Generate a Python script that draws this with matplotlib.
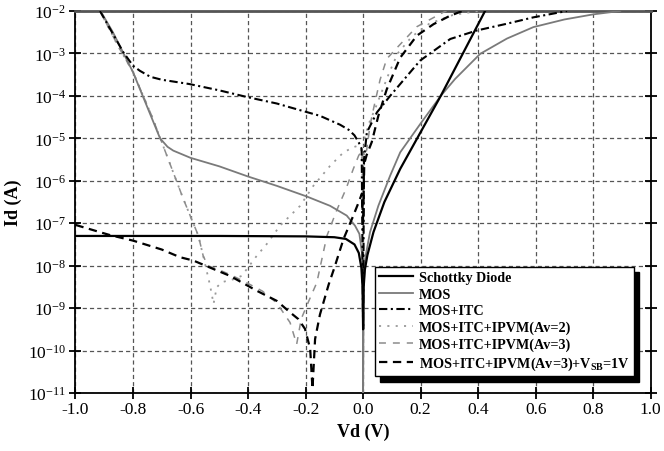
import numpy as np
import matplotlib
matplotlib.use("Agg")
import matplotlib.pyplot as plt
from matplotlib.ticker import LogLocator, NullLocator, MultipleLocator

plt.rcParams["font.family"] = "serif"
plt.rcParams["font.serif"] = ["Liberation Serif", "DejaVu Serif"]
plt.rcParams["mathtext.fontset"] = "custom"
plt.rcParams["mathtext.rm"] = "Liberation Serif"
plt.rcParams["mathtext.bf"] = "Liberation Serif:bold"
plt.rcParams["mathtext.it"] = "Liberation Serif:italic"
plt.rcParams["lines.scale_dashes"] = False

# values: Vd (V) and log10(Id / A)
vd_schottky = [-1.0, -0.5, -0.2, -0.1, -0.06, -0.03, -0.015, -0.006, -0.002, 0.0,
               0.002, 0.006, 0.015, 0.036, 0.074, 0.129, 0.27, 0.424]
lg_schottky = [-7.30, -7.30, -7.31, -7.33, -7.37, -7.50, -7.70, -8.05, -8.5, -9.5,
               -8.5, -8.1, -7.75, -7.21, -6.5, -5.72, -4.0, -2.0]

vd_mos = [-0.913, -0.87, -0.80, -0.776, -0.706, -0.68, -0.66, -0.60, -0.50, -0.40,
          -0.30, -0.196, -0.115, -0.057, -0.028, -0.013, -0.004, -0.001, 0.0,
          0.002, 0.007, 0.024, 0.053, 0.094, 0.129, 0.20, 0.27, 0.32, 0.407,
          0.50, 0.592, 0.70, 0.80, 0.894]
lg_mos = [-2.0, -2.5, -3.44, -3.84, -5.0, -5.2, -5.29, -5.46, -5.66, -5.90,
          -6.12, -6.37, -6.59, -6.82, -7.06, -7.25, -7.7, -8.5, -11.0,
          -8.5, -7.84, -7.21, -6.59, -5.88, -5.33, -4.65, -4.0, -3.6, -3.01,
          -2.65, -2.38, -2.2, -2.08, -2.0]

vd_itc = [-0.915, -0.834, -0.80, -0.776, -0.74, -0.70, -0.605, -0.50, -0.402, -0.30,
          -0.254, -0.15, -0.08, -0.05, -0.03, -0.015, -0.005, 0.0, 0.003, 0.013,
          0.048, 0.094, 0.198, 0.303, 0.395, 0.50, 0.592, 0.709]
lg_itc = [-2.0, -2.97, -3.29, -3.41, -3.55, -3.62, -3.72, -3.87, -4.03, -4.18,
          -4.27, -4.47, -4.68, -4.80, -4.93, -5.10, -5.25, -9.5, -5.5, -4.86,
          -4.39, -4.0, -3.17, -2.66, -2.46, -2.3, -2.15, -2.0]

vd_av2 = [-0.915, -0.85, -0.80, -0.735, -0.625, -0.573, -0.556, -0.532, -0.52, -0.509,
          -0.492, -0.45, -0.422, -0.37, -0.335, -0.289, -0.219, -0.173, -0.115, -0.068,
          -0.034, -0.016, -0.005, 0.0, 0.005, 0.02, 0.042, 0.065, 0.088, 0.12,
          0.17, 0.23, 0.31, 0.40]
lg_av2 = [-2.0, -2.85, -3.44, -4.47, -6.43, -7.29, -7.77, -8.47, -8.9, -8.51,
          -8.39, -8.32, -8.24, -7.77, -7.49, -7.06, -6.59, -6.12, -5.65, -5.33,
          -5.21, -5.17, -5.3, -6.5, -5.0, -4.65, -4.3, -3.9, -3.5, -3.0,
          -2.6, -2.3, -2.1, -2.0]

vd_av3 = [-0.915, -0.85, -0.80, -0.735, -0.625, -0.573, -0.556, -0.54, -0.50, -0.45,
          -0.40, -0.35, -0.30, -0.254, -0.231, -0.215, -0.19, -0.161, -0.126, -0.092,
          -0.06, -0.034, -0.015, -0.004, 0.0, 0.005, 0.013, 0.024, 0.036, 0.059,
          0.082, 0.12, 0.187, 0.279, 0.29]
lg_av3 = [-2.0, -2.85, -3.44, -4.47, -6.43, -7.29, -7.77, -8.0, -8.1, -8.25,
          -8.42, -8.6, -8.88, -9.34, -9.85, -9.25, -8.85, -8.4, -7.3, -6.7,
          -6.2, -5.72, -5.4, -5.3, -6.0, -5.5, -5.25, -4.7, -4.31, -3.62,
          -3.13, -2.85, -2.37, -2.03, -2.0]

vd_vsb = [-1.0, -0.88, -0.80, -0.70, -0.637, -0.59, -0.52, -0.463, -0.37, -0.30,
          -0.254, -0.225, -0.202, -0.184, -0.176, -0.167, -0.15, -0.12, -0.10, -0.068,
          -0.034, -0.015, -0.004, 0.0, 0.004, 0.012, 0.030, 0.053, 0.082, 0.129,
          0.187, 0.245, 0.30, 0.345]
lg_vsb = [-7.04, -7.28, -7.41, -7.62, -7.80, -7.88, -8.08, -8.24, -8.59, -8.83,
          -9.10, -9.26, -9.49, -9.96, -10.9, -9.73, -9.15, -8.45, -8.05, -7.37,
          -6.82, -6.5, -6.3, -7.0, -5.6, -5.4, -5.09, -4.47, -3.85, -3.1,
          -2.58, -2.31, -2.12, -2.0]

labels = ["Schottky Diode", "MOS", "MOS+ITC", "MOS+ITC+IPVM(Av=2)",
          "MOS+ITC+IPVM(Av=3)", r"MOS+ITC+IPVM(Av=3)+V$_{\mathbf{SB}}$=1V"]

fig = plt.figure(figsize=(6.64, 4.52), dpi=100)
ax = fig.add_axes([0.1137, 0.1283, 0.8663, 0.8452])

ax.plot(vd_schottky, 10.0 ** np.array(lg_schottky), color="black", lw=1.6,
        label=labels[0], zorder=5)
ax.plot(vd_mos, 10.0 ** np.array(lg_mos), color="#7a7a7a", lw=1.3,
        label=labels[1], zorder=4)
ax.plot(vd_itc, 10.0 ** np.array(lg_itc), color="black", lw=1.5,
        dashes=(6, 2.5, 1.5, 2.5), label=labels[2], zorder=4)
ax.plot(vd_av2, 10.0 ** np.array(lg_av2), color="#9a9a9a", lw=1.3,
        dashes=(1.5, 4.5), label=labels[3], zorder=3)
ax.plot(vd_av3, 10.0 ** np.array(lg_av3), color="#8c8c8c", lw=1.1,
        dashes=(5, 5), label=labels[4], zorder=3)
ax.plot(vd_vsb, 10.0 ** np.array(lg_vsb), color="black", lw=1.6,
        dashes=(6, 4), label=labels[5], zorder=4)

ax.set_yscale("log")
ax.set_xlim(-1.0, 1.0)
ax.set_ylim(1e-11, 1e-2)
ax.xaxis.set_major_locator(MultipleLocator(0.2))
ax.xaxis.set_major_formatter(plt.FuncFormatter(lambda v, p: f"{v:.1f}".replace("-0.0", "0.0")))
ax.yaxis.set_major_locator(LogLocator(base=10, numticks=15))
ax.yaxis.set_minor_locator(NullLocator())

ax.grid(True, which="major", color="#555555", lw=0.9, dashes=(3, 2.2))
ax.tick_params(axis="both", direction="inout", length=8, width=1.3,
               labelsize=12.5, colors="black")
ax.tick_params(axis="y", right=True, pad=3)
ax.tick_params(axis="x", pad=2)

for side in ["left", "bottom", "right"]:
    ax.spines[side].set_linewidth(1.3)
    ax.spines[side].set_color("black")
ax.spines["top"].set_linewidth(2.0)
ax.spines["top"].set_color("#555555")

ax.set_xlabel("Vd (V)", fontsize=13, fontweight="bold", labelpad=4)
ax.set_ylabel("Id (A)", fontsize=13, fontweight="bold", labelpad=4)

leg = ax.legend(loc="upper left", bbox_to_anchor=(0.520, 0.330),
                prop={"weight": "bold", "size": 10.2}, fancybox=False,
                framealpha=1, edgecolor="black", handlelength=2.4,
                handletextpad=0.4, labelspacing=0.25, borderpad=0.3,
                borderaxespad=0,
                shadow={"color": "black", "alpha": 1, "ox": 4, "oy": -4})
leg.get_frame().set_linewidth(1.0)
leg.set_zorder(10)

fig.savefig("out.png", dpi=100)
